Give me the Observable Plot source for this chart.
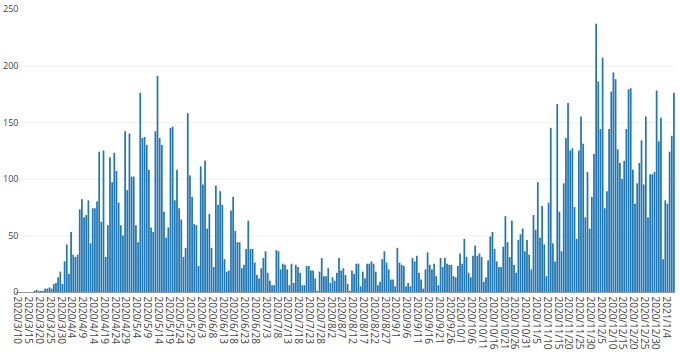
<!DOCTYPE html>
<html><head><meta charset="utf-8">
<script src="https://cdn.jsdelivr.net/npm/d3@7"></script>
<script src="https://cdn.jsdelivr.net/npm/@observablehq/plot@0.6"></script>
<style>body{margin:0;background:#fff} svg{display:block}</style>
</head><body><div id="chart"></div>
<script>
const startDate = "2020-03-10";
const mar = [0,0,0,0,0,0,0,0,1,2,1,1,1,3,3,4,3,7,8,13,18,7];
const apr = [27,42,16,53,33,31,33,73,82,66,68,81,43,74,74,80,124,62,125,31,59,119,97,123,107,79,59,50,142,90];
const may = [140,102,102,59,44,176,136,137,130,108,57,53,142,191,136,130,71,48,57,145,146,81,108,74,64,31,39,158,103,84,60];
const jun = [59,23,111,95,116,56,69,39,22,94,77,89,77,29,18,19,72,84,54,44,44,21,24,38,63,38,38,26,15,12];
const jul = [21,30,36,17,10,6,6,37,36,20,25,24,20,6,25,8,24,22,17,6,6,23,23,19,19,12,1,18,30,14,14];
const aug = [21,8,13,10,17,30,19,21,15,7,1,19,16,25,25,5,18,12,25,25,27,25,18,6,9,29,36,26,20,11,11];
const sep = [5,39,26,24,23,5,8,5,30,27,32,17,11,3,20,35,24,20,25,14,6,30,22,30,25,24,24,14,13,23];
const oct = [34,25,47,31,17,13,32,41,32,34,31,9,13,28,49,53,38,27,22,22,40,67,44,31,63,24,17,46,51,56,36];
const nov = [46,33,20,68,55,97,48,76,42,14,79,145,43,27,166,71,36,96,136,167,125,127,75,47,125,155,131,66,106,56];
const dec = [84,122,237,186,144,207,74,89,144,177,194,188,126,114,100,116,144,179,180,108,78,96,114,134,95,155,66,104,104,106,178];
const jan = [133,154,29,81,78,124,138,176];
const values = [...mar,...apr,...may,...jun,...jul,...aug,...sep,...oct,...nov,...dec,...jan];
const yTicks = [0,50,100,150,200,250];

const fmt = d => `${d.getUTCFullYear()}/${d.getUTCMonth()+1}/${d.getUTCDate()}`;
const dates = values.map((v,i) => fmt(d3.utcDay.offset(new Date(startDate), i)));
const data = values.map((v,i) => ({date: dates[i], value: v}));
const tickDates = dates.filter((d,i) => i % 5 === 0);

const chart = Plot.plot({
  width: 680, height: 352,
  marginTop: 9, marginBottom: 60, marginLeft: 16, marginRight: 5,
  style: {fontFamily: "'Open Sans', sans-serif", fontSize: "10px", color: "#444", background: "#fff"},
  x: {type: "band", domain: dates, paddingInner: 0.2, paddingOuter: 0.1},
  y: {domain: [0, 250]},
  marks: [
    Plot.ruleY(yTicks.filter(t => t > 0 && t < 250), {stroke: "#eee", strokeWidth: 1}),
    Plot.barY(data, {x: "date", y: "value", fill: "#1f77b4"}),
    Plot.ruleY([0], {stroke: "#999", strokeWidth: 1}),
    Plot.axisX({ticks: tickDates, tickSize: 0, tickRotate: 90, tickPadding: 4, label: null}),
    Plot.axisY({ticks: yTicks, tickSize: 0, tickPadding: 0, dx: 2, fontSize: 9, label: null})
  ]
});
document.getElementById("chart").appendChild(chart);
</script>
</body></html>
